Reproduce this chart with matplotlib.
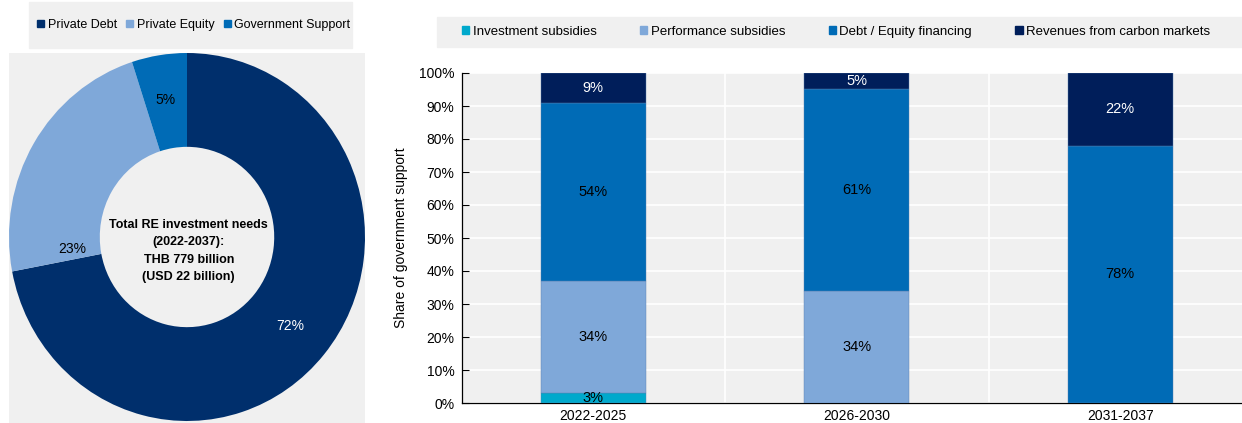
import matplotlib
matplotlib.use('Agg')
import matplotlib.pyplot as plt
from matplotlib.patches import Patch, Rectangle

plt.rcParams['font.family'] = ['Liberation Sans', 'DejaVu Sans']

# left: financing mix of total RE investment
pie_labels = ['Private Debt', 'Private Equity', 'Government Support']
pie_values = [72, 23, 5]
pie_colors = ['#002f6c', '#7fa8d9', '#006bb6']
pie_text_colors = ['white', 'black', 'black']

# right: breakdown of government support by period
periods = ['2022-2025', '2026-2030', '2031-2037']
series = ['Investment subsidies', 'Performance subsidies',
          'Debt / Equity financing', 'Revenues from carbon markets']
shares = {
    'Investment subsidies': [3, 0, 0],
    'Performance subsidies': [34, 34, 0],
    'Debt / Equity financing': [54, 61, 78],
    'Revenues from carbon markets': [9, 5, 22],
}
bar_colors = ['#00a9cc', '#7fa8d9', '#006bb6', '#001e5a']
bar_text_colors = ['black', 'black', 'black', 'white']

BG = '#f0f0f0'
W, H = 1242, 423
fig = plt.figure(figsize=(W / 100, H / 100), dpi=100)

# gray legend panels
fig.patches.append(Rectangle((29 / W, 1 - 48 / H), 323 / W, 46 / H,
                             transform=fig.transFigure, color=BG, zorder=0))
fig.patches.append(Rectangle((437 / W, 1 - 47 / H), (W - 437) / W, 30 / H,
                             transform=fig.transFigure, color=BG, zorder=0))

# ---- donut ----
ax1 = fig.add_axes([9 / W, 0, 356 / W, 370 / H])
wedges, _, autotexts = ax1.pie(pie_values, colors=pie_colors, startangle=90,
                               counterclock=False, autopct='%d%%',
                               pctdistance=0.755, radius=1.0,
                               wedgeprops=dict(width=0.51, linewidth=0),
                               textprops=dict(fontsize=10))
for t, c in zip(autotexts, pie_text_colors):
    t.set_color(c)
autotexts[1].set_position((-0.645, -0.065))
ax1.set_frame_on(True)
ax1.set_facecolor(BG)
ax1.set_aspect('auto')
ax1.set_xlim(-1, 1)
ax1.set_ylim(-186 / 184, 1)
for s in ax1.spines.values():
    s.set_visible(False)
ax1.set_xticks([])
ax1.set_yticks([])
ax1.text(0.01, -0.075, 'Total RE investment needs\n(2022-2037):\nTHB 779 billion\n(USD 22 billion)',
         ha='center', va='center', fontsize=9, fontweight='bold', linespacing=1.6)

h1 = [Patch(color=c) for c in pie_colors]
fig.legend(h1, pie_labels, loc='center left', bbox_to_anchor=(37 / W, 1 - 25 / H),
           ncol=3, frameon=False, fontsize=9, handlelength=0.55, handleheight=0.55,
           handletextpad=0.3, columnspacing=0.75, borderpad=0, borderaxespad=0)

# ---- stacked bars ----
ax2 = fig.add_axes([461.5 / W, 20 / H, (W - 461.5) / W, 330 / H])
ax2.set_facecolor(BG)
x = range(len(periods))
bottom = [0] * len(periods)
for name, col, tc in zip(series, bar_colors, bar_text_colors):
    vals = shares[name]
    ax2.bar(x, vals, 0.4, bottom=bottom, color=col, label=name, zorder=3,
            edgecolor='#5a7fb0', linewidth=0.3)
    for i, v in enumerate(vals):
        if v > 0:
            ax2.text(i, bottom[i] + v / 2, f'{v}%', ha='center', va='center',
                     color=tc, fontsize=10.5, zorder=4)
    bottom = [b + v for b, v in zip(bottom, vals)]

ax2.set_xlim(-0.5, -0.5 + (W - 461.5) / 263.5)
ax2.set_ylim(0, 100)
ax2.set_yticks(range(0, 101, 10))
ax2.set_yticklabels([f'{v}%' for v in range(0, 101, 10)], fontsize=10)
ax2.set_xticks(list(x))
ax2.set_xticklabels(periods, fontsize=10)
ax2.tick_params(axis='x', length=0, pad=4)
ax2.tick_params(axis='y', direction='in', length=5, width=0.8, pad=5)
ax2.grid(axis='y', color='white', linewidth=1.2, zorder=1)
for xv in [0.5, 1.5]:
    ax2.axvline(xv, color='white', linewidth=1.2, zorder=1)
for s in ['top', 'right']:
    ax2.spines[s].set_visible(False)
ax2.spines['left'].set_linewidth(0.9)
ax2.spines['bottom'].set_linewidth(0.9)
ax2.set_ylabel('Share of government support', fontsize=10, labelpad=8)

h2 = [Patch(color=c) for c in bar_colors]
fig.legend(h2, series, loc='center left', bbox_to_anchor=(462 / W, 1 - 32 / H),
           ncol=4, frameon=False, fontsize=9.5, handlelength=0.55, handleheight=0.55,
           handletextpad=0.25, columnspacing=3.3, borderpad=0, borderaxespad=0)

fig.savefig('out.png', dpi=100)
